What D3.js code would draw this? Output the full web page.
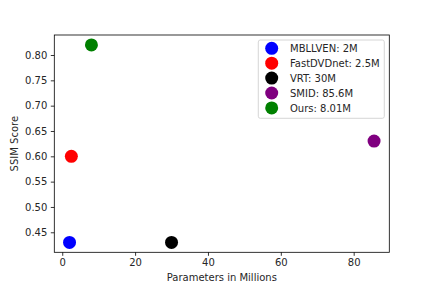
<!DOCTYPE html>
<html><head><meta charset="utf-8">
<script src="https://cdn.jsdelivr.net/npm/d3@7"></script>
<style>body{margin:0;background:#fff}svg{display:block}text{font-family:"DejaVu Sans",sans-serif;fill:#262626}</style>
</head><body><svg id="c" width="432" height="288"></svg>
<script>
const names = ["MBLLVEN: 2M","FastDVDnet: 2.5M","VRT: 30M","SMID: 85.6M","Ours: 8.01M"];
const params = [2, 2.5, 30, 85.6, 8.01];
const ssim = [0.43, 0.60, 0.43, 0.63, 0.82];
const colors = ["blue","red","black","purple","green"];
const xTicks = [0,20,40,60,80];
const yTicks = [0.45,0.50,0.55,0.60,0.65,0.70,0.75,0.80];

const svg = d3.select("#c");
const L=54.3, R=389.3, T=35, B=252.3;
const xMin=d3.min(params), xMax=d3.max(params), yMin=d3.min(ssim), yMax=d3.max(ssim);
const xm=(xMax-xMin)*0.05, ym=(yMax-yMin)*0.05;
const x=d3.scaleLinear().domain([xMin-xm,xMax+xm]).range([L,R]);
const y=d3.scaleLinear().domain([yMin-ym,yMax+ym]).range([B,T]);

const gx=svg.append("g").attr("transform",`translate(0,${B})`)
 .call(d3.axisBottom(x).tickValues(xTicks).tickFormat(d3.format("d")).tickSize(3.5).tickPadding(3.5));
const gy=svg.append("g").attr("transform",`translate(${L},0)`)
 .call(d3.axisLeft(y).tickValues(yTicks).tickFormat(d3.format(".2f")).tickSize(3.5).tickPadding(3.5));
[gx,gy].forEach(g=>{g.select(".domain").remove();g.selectAll("line").attr("stroke","#000").attr("stroke-width",0.8);
 g.selectAll("text").attr("font-size",10).attr("font-family","DejaVu Sans").attr("fill","#262626");});

svg.append("rect").attr("x",L).attr("y",T).attr("width",R-L).attr("height",B-T)
 .attr("fill","none").attr("stroke","#000").attr("stroke-width",0.8);

svg.selectAll("circle.pt").data(params).join("circle").attr("class","pt")
 .attr("cx",(d)=>x(d)).attr("cy",(d,i)=>y(ssim[i])).attr("r",6.5).attr("fill",(d,i)=>colors[i]);

svg.append("text").attr("x",(L+R)/2).attr("y",281).attr("text-anchor","middle").attr("font-size",10).text("Parameters in Millions");
svg.append("text").attr("transform",`translate(18,${(T+B)/2}) rotate(-90)`).attr("text-anchor","middle").attr("font-size",10).text("SSIM Score");

const lg=svg.append("g");
lg.append("rect").attr("x",258.3).attr("y",40).attr("width",126).attr("height",78.3).attr("rx",2)
 .attr("fill","#fff").attr("fill-opacity",0.8).attr("stroke","#ccc").attr("stroke-width",0.8);
names.forEach((n,i)=>{
 const cy=48.3+i*14.9;
 lg.append("circle").attr("cx",271.7).attr("cy",cy).attr("r",6.5).attr("fill",colors[i]);
 lg.append("text").attr("x",290).attr("y",cy+3.6).attr("font-size",10).text(n);
});
</script></body></html>
